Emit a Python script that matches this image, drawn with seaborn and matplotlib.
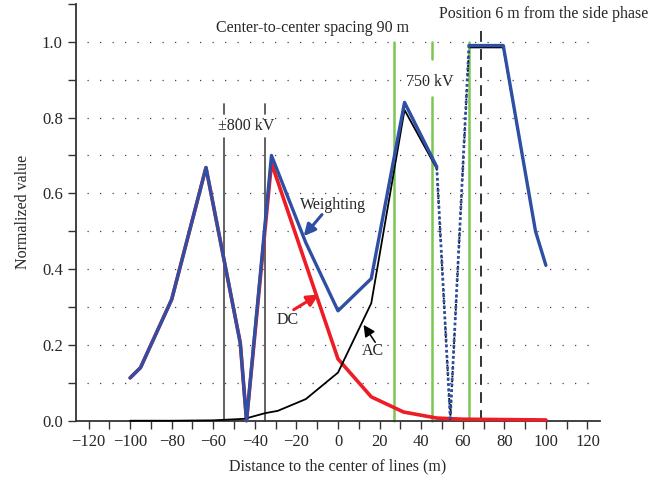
import matplotlib
matplotlib.use("Agg")
import matplotlib.pyplot as plt
import numpy as np
import pandas as pd
import seaborn as sns
from matplotlib.ticker import MultipleLocator

# %% Data
dist_weight = [-100, -95, -80, -63.5, -47, -44, -32, -15.5, 0, 16, 32, 47.5, 54, 63, 79.5, 95, 100]
weighting = [0.113, 0.14, 0.32, 0.668, 0.205, 0.0, 0.70, 0.47, 0.29, 0.375, 0.84, 0.67, 0.007, 0.99, 0.99, 0.50, 0.41]

dist_dc = [-100, -95, -80, -63.5, -47, -44, -32, 0, 16, 31.5, 47.5, 60, 80, 100]
dc = [0.113, 0.14, 0.32, 0.668, 0.205, 0.0, 0.68, 0.163, 0.063, 0.023, 0.007, 0.004, 0.003, 0.002]

dist_ac = [-100, -80, -60, -45, -35, -29, -15.5, 0, 16, 32, 47.5, 54, 63, 79.5, 95, 100]
ac = [0.0, 0.0, 0.001, 0.005, 0.02, 0.026, 0.057, 0.127, 0.31, 0.82, 0.665, 0.005, 0.985, 0.985, 0.50, 0.41]

dc_poles = [-55, -35]
ac_phases = [27, 45, 63]
side_position = 69

BLUE = "#2e4fa3"
RED = "#ee1c25"
GREEN = "#7cc653"
GREY = "#555555"

sns.set_theme(style="white")
plt.rcParams["font.family"] = ["Liberation Serif", "DejaVu Serif"]
plt.rcParams["font.size"] = 11.5

fig = plt.figure(figsize=(6.5, 4.8), dpi=100)
ax = fig.add_axes([0.117, 0.1235, 0.806, 0.8685])

# %% Reference lines (poles / phases / measuring position)
for x in dc_poles:
    ax.plot([x, x], [0, 0.745], color=GREY, lw=1.3, zorder=1)
    ax.plot([x, x], [0.81, 0.835], color=GREY, lw=1.3, zorder=1)
ax.plot([ac_phases[0]] * 2, [0, 1.0], color=GREEN, lw=1.8, zorder=1)
ax.plot([ac_phases[1]] * 2, [0, 0.855], color=GREEN, lw=1.8, zorder=1)
ax.plot([ac_phases[1]] * 2, [0.955, 1.0], color=GREEN, lw=1.8, zorder=1)
ax.plot([ac_phases[2]] * 2, [0.01, 1.0], color=GREEN, lw=1.8, zorder=1)
ax.plot([side_position] * 2, [0, 1.045], color="#222222", lw=1.3,
        linestyle=(0, (6, 4)), zorder=1)

# %% Curves
ac_df = pd.DataFrame({"x": dist_ac, "y": ac})
dc_df = pd.DataFrame({"x": dist_dc, "y": dc})
w_df = pd.DataFrame({"x": dist_weight, "y": weighting})

sns.lineplot(data=dc_df, x="x", y="y", ax=ax, color=RED, lw=2.6, sort=False, zorder=3)
sns.lineplot(data=ac_df.iloc[:11], x="x", y="y", ax=ax, color="black", lw=1.3,
             sort=False, zorder=4)
sns.lineplot(data=ac_df.iloc[10:13], x="x", y="y", ax=ax, color="black", lw=1.3,
             linestyle=":", sort=False, zorder=4)
sns.lineplot(data=ac_df.iloc[12:], x="x", y="y", ax=ax, color="black", lw=1.3,
             sort=False, zorder=4)
sns.lineplot(data=w_df.iloc[:12], x="x", y="y", ax=ax, color=BLUE, lw=2.4,
             sort=False, zorder=5)
sns.lineplot(data=w_df.iloc[11:14], x="x", y="y", ax=ax, color=BLUE, lw=2.0,
             linestyle=(0, (1, 1)), sort=False, zorder=5)
sns.lineplot(data=w_df.iloc[13:], x="x", y="y", ax=ax, color=BLUE, lw=2.4,
             sort=False, zorder=5)
for line in ax.lines:
    line.set_clip_on(False)

# %% Annotations
ax.text(-12, 1.036, "Center-to-center spacing 90 m", ha="center", va="center")
ax.text(99, 1.073, "Position 6 m from the side phase", ha="center", va="center",
        clip_on=False)
ax.text(-44, 0.777, "±800 kV", ha="center", va="center")
ax.text(44, 0.893, "750 kV", ha="center", va="center")
ax.text(-2.3, 0.568, "Weighting", ha="center", va="center")
ax.text(-24.2, 0.266, "DC", ha="center", va="center")
ax.text(17, 0.183, "AC", ha="center", va="center")

arrows = [((-7.7, 0.544), (-16.5, 0.487), BLUE, 2.2),
          ((-21.3, 0.293), (-9.3, 0.333), RED, 2.2),
          ((17.9, 0.207), (12.3, 0.253), "black", 1.1)]
for tail, head, col, w in arrows:
    ax.annotate("", xy=head, xytext=tail,
                arrowprops=dict(arrowstyle="-|>,head_length=0.6,head_width=0.3",
                                color=col, lw=w, shrinkA=0, shrinkB=0))

# %% Axes styling
ax.set_xlim(-126, 126)
ax.set_ylim(0, 1.1)
ax.xaxis.set_major_locator(MultipleLocator(20))
ax.xaxis.set_minor_locator(MultipleLocator(10))
ax.set_yticks(np.arange(0, 1.01, 0.2))
ax.yaxis.set_minor_locator(MultipleLocator(0.1))
ax.set_xticklabels([f"{int(v)}".replace("-", "\u2212") for v in ax.get_xticks()])
ax.set_yticklabels([f"{v:.1f}" for v in ax.get_yticks()])
ax.tick_params(which="both", direction="out", length=6, width=1, color="#333333",
               labelsize=12, bottom=True, left=True)
ax.set_xlim(-126, 126)
for y in np.arange(0.1, 1.01, 0.1):
    ax.axhline(y, xmin=0.02, xmax=1.0, color="#444444", lw=0.9,
               linestyle=(0, (1, 9)), zorder=0)
sns.despine(ax=ax)
for s in ["left", "bottom"]:
    ax.spines[s].set_color("#333333")
    ax.spines[s].set_linewidth(1.3)
ax.set_xlabel("Distance to the center of lines (m)", fontsize=11.5, labelpad=6)
ax.set_ylabel("Normalized value", fontsize=11.5, labelpad=8)

fig.savefig("out.png", dpi=100)
